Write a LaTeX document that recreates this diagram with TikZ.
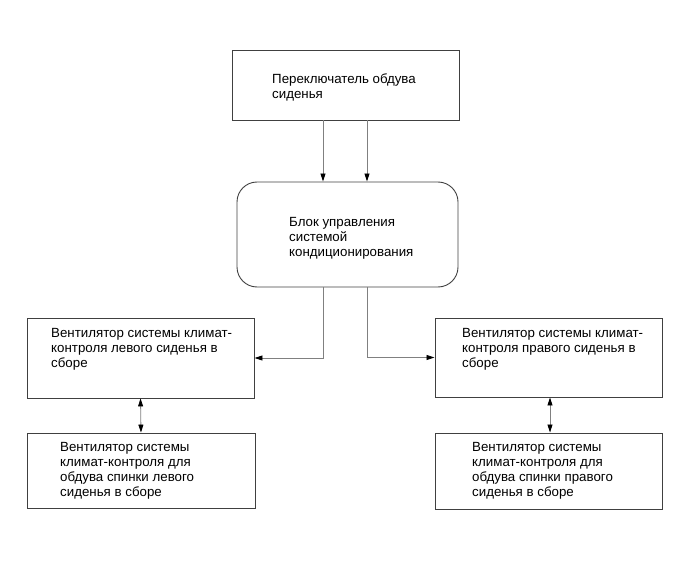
\documentclass[tikz,border=0pt]{standalone}
\usepackage{fontspec}
\setmainfont{Liberation Sans}
\usetikzlibrary{arrows.meta}
\begin{document}
\begin{tikzpicture}[x=1pt,y=-1pt,
  box/.style={draw=black!75,line width=0.9pt,inner sep=0pt},
  txt/.style={anchor=north west,inner sep=0pt,align=left,font=\fontsize{13.3}{15.2}\selectfont,text=black},
  conn/.style={draw=black!50,line width=0.8pt},
  tip/.tip={Triangle[length=8pt,width=5pt,color=black]},
  arr/.style={conn,-tip},
  darr/.style={conn,tip-tip}]
\useasboundingbox (0,0) rectangle (690,564);
\node[box,minimum width=227pt,minimum height=70pt] (top) at (345.5,85) {};
\node[box,rounded corners=20pt,minimum width=221pt,minimum height=105pt] (ctrl) at (347.5,234.5) {};
\node[box,minimum width=227pt,minimum height=80pt] (L) at (140.5,358) {};
\node[box,minimum width=228pt,minimum height=75pt] (LL) at (141,470.5) {};
\node[box,minimum width=227pt,minimum height=79pt] (R) at (548.5,357.5) {};
\node[box,minimum width=227pt,minimum height=76pt] (RR) at (548.5,471) {};
\node[txt] (ttop) at (272,73.5) {Переключатель обдува\\сиденья};
\node[txt] (tctrl) at (289,217) {Блок управления\\системой\\кондиционирования};
\node[txt] (tL) at (51,328) {Вентилятор системы климат-\\контроля левого сиденья в\\сборе};
\node[txt] (tLL) at (60,442) {Вентилятор системы\\климат-контроля для\\обдува спинки левого\\сиденья в сборе};
\node[txt] (tR) at (462,328) {Вентилятор системы климат-\\контроля правого сиденья в\\сборе};
\node[txt] (tRR) at (472,442) {Вентилятор системы\\климат-контроля для\\обдува спинки правого\\сиденья в сборе};
\draw[arr] ([xshift=-22.5pt]top.south) -- ([xshift=-24.5pt]ctrl.north);
\draw[arr] ([xshift=21.5pt]top.south) -- ([xshift=19.5pt]ctrl.north);
\draw[arr] ([xshift=-24.5pt]ctrl.south) |- (L.east);
\draw[arr] ([xshift=19.5pt]ctrl.south) |- (R.west);
\draw[darr] (L.south) -- (LL.north);
\draw[darr] ([xshift=1.5pt]R.south) -- ([xshift=1.5pt]RR.north);
\end{tikzpicture}
\end{document}
